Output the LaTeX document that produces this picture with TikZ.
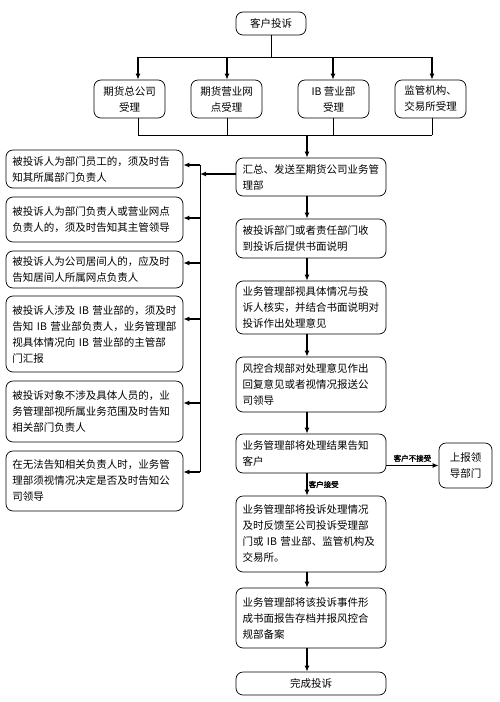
\documentclass[tikz,border=0pt]{standalone}
\usepackage{fontspec}
\setmainfont{Noto Sans CJK SC}[AutoFakeBold=2]
\usetikzlibrary{arrows.meta}
\begin{document}
\begin{tikzpicture}[x=1pt,y=-1pt,
  box/.style={draw, rounded corners=7pt, line width=0.7pt, inner xsep=6.5pt, inner ysep=0pt, font=\fontsize{10.5}{16}\selectfont},
  rbox/.style={box, text width=137pt, align=left},
  lbox/.style={box, text width=164pt, align=left},
  cbox/.style={box, align=center},
  arr/.style={-{Latex[length=6pt,width=5pt]}, line width=1.4pt},
  ln/.style={line width=0.8pt},
  lab/.style={font=\fontsize{7.5}{9}\selectfont\bfseries, inner sep=1pt}]
\useasboundingbox (0,0) rectangle (500,702);

% top
\node[cbox, minimum width=70pt, minimum height=23pt] (top) at (271,23.5) {客户投诉};
\node[cbox, minimum width=71pt, minimum height=38pt] (t1) at (129.5,99) {期货总公司\\受理};
\node[cbox, minimum width=71pt, minimum height=38pt] (t2) at (226.5,99) {期货营业网\\点受理};
\node[cbox, minimum width=71pt, minimum height=38pt] (t3) at (333.5,99) {IB 营业部\\受理};
\node[cbox, minimum width=71pt, minimum height=38pt] (t4) at (430.5,99) {监管机构、\\交易所受理};

% right column
\node[rbox, minimum height=38pt] (s1) at (311,177) {汇总、发送至期货公司业务管\\理部};
\node[rbox, minimum height=39pt] (s2) at (311,238.5) {被投诉部门或者责任部门收\\到投诉后提供书面说明};
\node[rbox, minimum height=53pt] (s3) at (311,307.5) {业务管理部视具体情况与投\\诉人核实，并结合书面说明对\\投诉作出处理意见};
\node[rbox, minimum height=55pt] (s4) at (311,384.5) {风控合规部对处理意见作出\\回复意见或者视情况报送公\\司领导};
\node[rbox, minimum height=39pt] (s5) at (311,453.5) {业务管理部将处理结果告知\\客户};
\node[rbox, minimum height=76pt] (s6) at (311,534) {业务管理部将投诉处理情况\\及时反馈至公司投诉受理部\\门或 IB 营业部、监管机构及\\交易所。};
\node[rbox, minimum height=60pt] (s7) at (311,618) {业务管理部将该投诉事件形\\成书面报告存档并报风控合\\规部备案};
\node[cbox, minimum width=150pt, minimum height=23pt] (s8) at (311,683.5) {完成投诉};
\node[cbox, minimum width=53pt, minimum height=45pt] (r) at (465.5,465.5) {上报领\\导部门};

% left column
\node[lbox, minimum height=38pt] (l1) at (94.5,169) {被投诉人为部门员工的，须及时告\\知其所属部门负责人};
\node[lbox, minimum height=45pt] (l2) at (94.5,219.5) {被投诉人为部门负责人或营业网点\\负责人的，须及时告知其主管领导};
\node[lbox, minimum height=37pt] (l3) at (94.5,269.5) {被投诉人为公司居间人的，应及时\\告知居间人所属网点负责人};
\node[lbox, minimum height=76pt] (l4) at (94.5,334) {被投诉人涉及 IB 营业部的，须及时\\告知 IB 营业部负责人，业务管理部\\视具体情况向 IB 营业部的主管部\\门汇报};
\node[lbox, minimum height=61pt] (l5) at (94.5,411.5) {被投诉对象不涉及具体人员的，业\\务管理部视所属业务范围及时告知\\相关部门负责人};
\node[lbox, minimum height=60pt] (l6) at (94.5,481) {在无法告知相关负责人时，业务管\\理部须视情况决定是否及时告知公\\司领导};

% top fan-out
\coordinate (j1) at (138,57);
\coordinate (j2) at (227,57);
\coordinate (j3) at (333,57);
\coordinate (j4) at (432,57);
\draw[ln] (top.south) -- (top.south |- j1);
\draw[ln] (j1) -- (j4);
\foreach \i in {1,2,3,4} {\draw[arr] (j\i) -- (j\i |- t\i.north);}

% fan-in
\coordinate (k1) at (138,135);
\coordinate (k2) at (227,135);
\coordinate (k3) at (333,135);
\coordinate (k4) at (432,135);
\coordinate (km) at (307,135);
\foreach \i in {1,2,3,4} {\draw[ln] (k\i |- t\i.south) -- (k\i);}
\draw[ln] (k1) -- (k4);
\draw[arr] (km) -- (km |- s1.north);

% main column
\draw[arr] ([xshift=-4pt]s1.south) -- ([xshift=-4pt]s2.north);
\draw[arr] ([xshift=-4pt]s2.south) -- ([xshift=-4pt]s3.north);
\draw[arr] ([xshift=-4pt]s3.south) -- ([xshift=-4pt]s4.north);
\draw[arr] ([xshift=-4pt]s4.south) -- ([xshift=-4pt]s5.north);
\draw[arr] ([xshift=-4pt]s5.south) -- ([xshift=-4pt]s6.north) node[lab, midway, right] {客户接受};
\draw[arr] ([xshift=-4pt]s6.south) -- ([xshift=-4pt]s7.north);
\draw[arr] ([xshift=-4pt]s7.south) -- ([xshift=-4pt]s8.north);
\draw[arr] (r.west -| s5.east) -- (r.west) node[lab, midway, above=2pt] {客户不接受};

% left bus
\coordinate (b1) at (200,165);
\coordinate (b2) at (200,218);
\coordinate (b3) at (200,263);
\coordinate (b4) at (200,319);
\coordinate (b5) at (200,403);
\coordinate (b6) at (200,472);
\coordinate (bs) at (200,174);
\draw[ln] (b1) -- (b6);
\draw[arr] (s1.west |- bs) -- (bs);
\foreach \i in {1,...,6} {\draw[arr] (b\i) -- (b\i -| l\i.east);}
\end{tikzpicture}
\end{document}
